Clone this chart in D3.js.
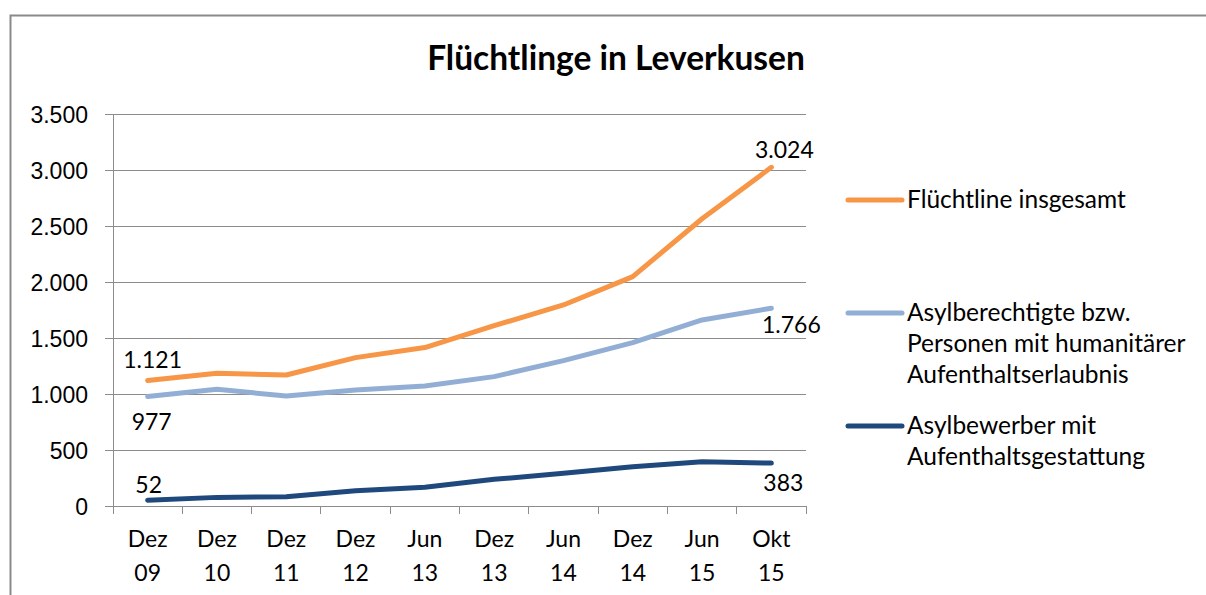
<!DOCTYPE html>
<html>
<head>
<meta charset="utf-8">
<script src="https://cdn.jsdelivr.net/npm/d3@7"></script>
<style>
  body { margin: 0; background: #fff; }
  svg { display: block; font-family: Lato, "Open Sans", sans-serif; }
</style>
</head>
<body>
<div class="chart"></div>
<script>
// data
var categories = ["Dez 09", "Dez 10", "Dez 11", "Dez 12", "Jun 13", "Dez 13", "Jun 14", "Dez 14", "Jun 15", "Okt 15"];
var totalValues = [1121, 1185, 1170, 1325, 1415, 1610, 1795, 2048, 2565, 3024];
var recognisedValues = [977, 1042, 982, 1036, 1071, 1155, 1298, 1458, 1661, 1766];
var applicantValues = [52, 77, 83, 137, 167, 238, 292, 351, 396, 383];
var seriesNames = ["Flüchtline insgesamt", "Asylberechtigte bzw. Personen mit humanitärer Aufenthaltserlaubnis", "Asylbewerber mit Aufenthaltsgestattung"];
var yTicks = [0, 500, 1000, 1500, 2000, 2500, 3000, 3500];

var series = [
	{ name: seriesNames[0], values: totalValues, color: "#f79646",
	  legendLines: ["Flüchtline insgesamt"], legendY: 200,
	  first: [5, -12], last: [13, -9] },
	{ name: seriesNames[1], values: recognisedValues, color: "#93aed5",
	  legendLines: ["Asylberechtigte bzw.", "Personen mit humanitärer", "Aufenthaltserlaubnis"], legendY: 313,
	  first: [4, 33], last: [20, 25] },
	{ name: seriesNames[2], values: applicantValues, color: "#1f497d",
	  legendLines: ["Asylbewerber mit", "Aufenthaltsgestattung"], legendY: 426,
	  first: [1, -7], last: [12, 28] }
];

var de = d3.formatLocale({ decimal: ",", thousands: ".", grouping: [3], currency: ["", "€"] });
var fmt = de.format(",d");

var W = 1206, H = 595;
var plot = { left: 113, right: 806, top: 114, bottom: 506 };

var svg = d3.select("div.chart").append("svg")
	.attr("width", W)
	.attr("height", H);

// chart frame, only top and left show in the crop
svg.append("rect")
	.attr("x", 10.5).attr("y", 15.5)
	.attr("width", 1220).attr("height", 620)
	.attr("fill", "none")
	.attr("stroke", "#8a8a8a")
	.attr("stroke-width", 2);

svg.append("text")
	.attr("x", 616).attr("y", 70)
	.attr("text-anchor", "middle")
	.style("font-weight", "bold")
	.style("font-size", "33.5px")
	.text("Flüchtlinge in Leverkusen");

var x = d3.scaleBand().domain(categories).range([plot.left, plot.right]);
var y = d3.scaleLinear().domain([0, 3500]).range([plot.bottom, plot.top]);

// gridlines
svg.append("g")
	.attr("transform", "translate(" + plot.left + ",0)")
	.call(d3.axisLeft(y).tickValues(yTicks).tickSize(-(plot.right - plot.left)).tickFormat(""))
	.call(function(g) { g.select(".domain").remove(); })
	.selectAll("line")
	.attr("stroke", "#8c8c8c")
	.attr("shape-rendering", "crispEdges");

// y axis
var yAxis = svg.append("g")
	.attr("transform", "translate(" + plot.left + ",0)")
	.call(d3.axisLeft(y).tickValues(yTicks).tickSize(8).tickPadding(17).tickFormat(fmt));
yAxis.select(".domain").attr("stroke", "#8c8c8c").attr("shape-rendering", "crispEdges");
yAxis.selectAll("line").attr("stroke", "#8c8c8c").attr("shape-rendering", "crispEdges");
yAxis.selectAll("text").style("font-size", "23px").attr("fill", "#000").attr("dy", "0.36em");

// x axis: ticks sit on category boundaries
var xAxis = svg.append("g");
xAxis.append("line")
	.attr("x1", plot.left).attr("x2", plot.right)
	.attr("y1", plot.bottom).attr("y2", plot.bottom)
	.attr("stroke", "#8c8c8c")
	.attr("shape-rendering", "crispEdges");
xAxis.selectAll(".tick")
	.data(d3.range(categories.length + 1))
	.enter().append("line")
	.attr("x1", function(i) { return plot.left + i * x.step(); })
	.attr("x2", function(i) { return plot.left + i * x.step(); })
	.attr("y1", plot.bottom)
	.attr("y2", plot.bottom + 8)
	.attr("stroke", "#8c8c8c")
	.attr("shape-rendering", "crispEdges");

var xl = xAxis.selectAll(".lab")
	.data(categories)
	.enter().append("text")
	.attr("text-anchor", "middle")
	.style("font-size", "23px")
	.attr("transform", function(d) { return "translate(" + (x(d) + x.bandwidth() / 2) + ",0)"; });
xl.append("tspan").attr("x", 0).attr("y", 547).text(function(d) { return d.split(" ")[0]; });
xl.append("tspan").attr("x", 0).attr("y", 581).text(function(d) { return d.split(" ")[1]; });

// lines
var line = d3.line()
	.x(function(d, i) { return x(categories[i]) + x.bandwidth() / 2; })
	.y(function(d) { return y(d); });

series.forEach(function(s) {
	svg.append("path")
		.datum(s.values)
		.attr("d", line)
		.attr("fill", "none")
		.attr("stroke", s.color)
		.attr("stroke-width", 5)
		.attr("stroke-linecap", "round")
		.attr("stroke-linejoin", "round");

	// labels on first and last point
	var n = s.values.length - 1;
	[[0, s.first], [n, s.last]].forEach(function(p) {
		var i = p[0];
		svg.append("text")
			.attr("x", x(categories[i]) + x.bandwidth() / 2 + p[1][0])
			.attr("y", y(s.values[i]) + p[1][1])
			.attr("text-anchor", "middle")
			.style("font-size", "23px")
			.text(fmt(s.values[i]));
	});

	// legend
	svg.append("line")
		.attr("x1", 848).attr("x2", 902)
		.attr("y1", s.legendY).attr("y2", s.legendY)
		.attr("stroke", s.color)
		.attr("stroke-width", 5)
		.attr("stroke-linecap", "round");
	var t = svg.append("text").style("font-size", "24.5px");
	s.legendLines.forEach(function(l, j) {
		t.append("tspan").attr("x", 907).attr("y", s.legendY + 8 + j * 31).text(l);
	});
});
</script>
</body>
</html>
